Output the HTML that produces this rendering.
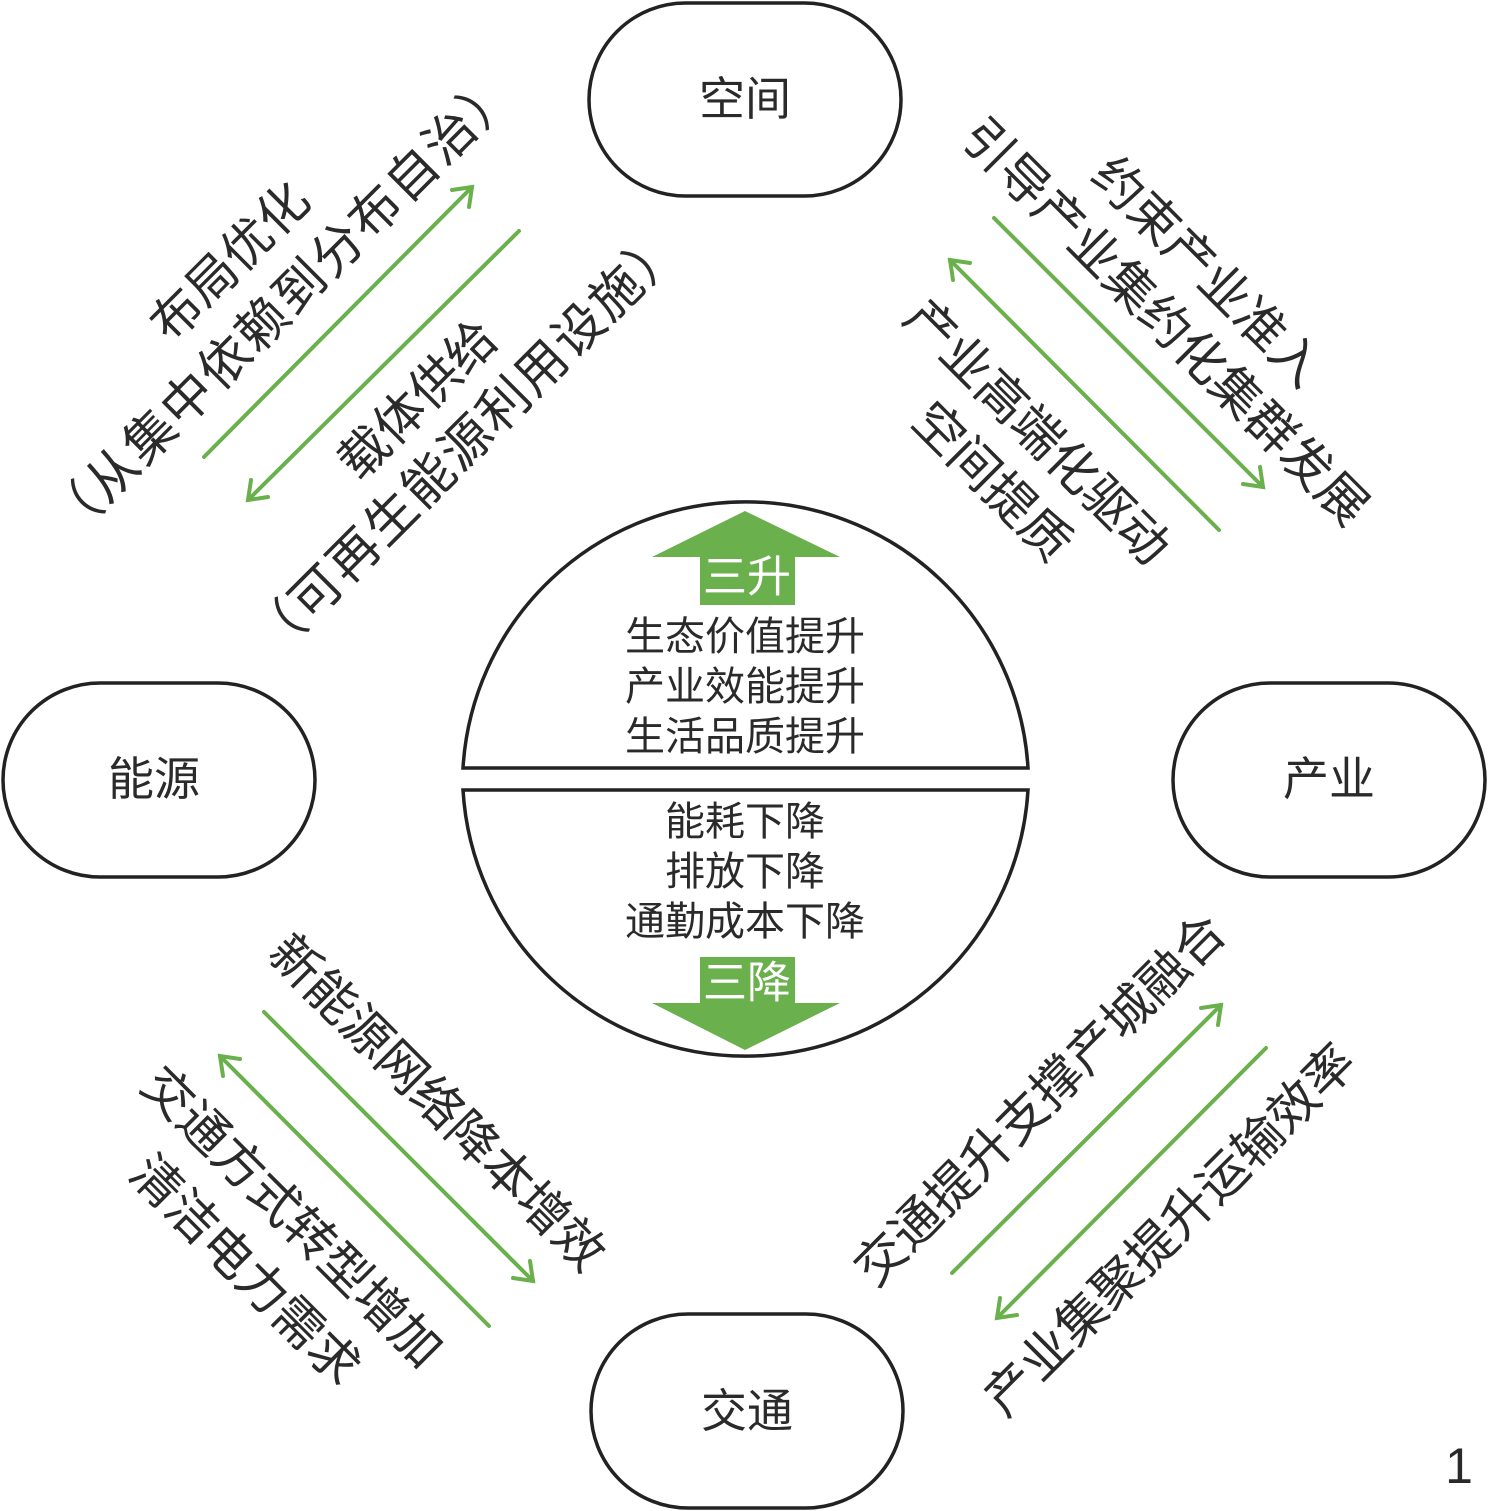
<!DOCTYPE html>
<html><head><meta charset="utf-8"><style>
html,body{margin:0;padding:0;background:#fff;}
svg{display:block;}
text{font-family:"Liberation Sans","Noto Sans CJK SC",sans-serif;fill:#2a2a2a;}
</style></head><body>
<svg width="1488" height="1511" viewBox="0 0 1488 1511" xmlns="http://www.w3.org/2000/svg">
<g fill="#fff" stroke="#222" stroke-width="3.5">
<rect x="589" y="3" width="312" height="193" rx="96.5"/>
<rect x="3" y="683" width="312" height="194" rx="97"/>
<rect x="1173" y="683" width="312" height="194" rx="97"/>
<rect x="591" y="1314" width="312" height="194" rx="97"/>
<path d="M463,768 A283,283 0 0 1 1028,768 Z"/>
<path d="M463,790 A283,283 0 0 0 1028,790 Z"/>
</g>
<g font-size="46" text-anchor="middle" dominant-baseline="central">
<text x="745" y="99">空间</text>
<text x="154" y="779">能源</text>
<text x="1329" y="779">产业</text>
<text x="747" y="1411">交通</text>
</g>
<g fill="#6ab04c">
<polygon points="745,511 840,557 795,557 795,605 700,605 700,557 652,557"/>
<polygon points="745,1050 840,1003 795,1003 795,957 700,957 700,1003 652,1003"/>
</g>
<g font-size="40" text-anchor="middle" dominant-baseline="central">
<text x="747" y="577" font-size="44" style="fill:#fff">三升</text>
<text x="747" y="983" font-size="44" style="fill:#fff">三降</text>
<text x="745" y="637">生态价值提升</text>
<text x="745" y="687">产业效能提升</text>
<text x="745" y="737">生活品质提升</text>
<text x="745" y="822">能耗下降</text>
<text x="745" y="872">排放下降</text>
<text x="745" y="922">通勤成本下降</text>
</g>
<g stroke="#6ab04c" stroke-width="4" fill="none" stroke-linecap="round">
<line x1="204" y1="457" x2="472" y2="187"/><polyline points="452,190 472,187 469,207"/>
<line x1="519" y1="231" x2="248" y2="500"/><polyline points="251,480 248,500 268,497"/>
<line x1="1219" y1="530" x2="950" y2="260"/><polyline points="970,263 950,260 953,280"/>
<line x1="994" y1="218" x2="1263" y2="487"/><polyline points="1243,484 1263,487 1260,467"/>
<line x1="264" y1="1012" x2="533" y2="1281"/><polyline points="513,1278 533,1281 530,1261"/>
<line x1="489" y1="1326" x2="220" y2="1056"/><polyline points="240,1059 220,1056 223,1076"/>
<line x1="952" y1="1273" x2="1221" y2="1005"/><polyline points="1201,1008 1221,1005 1218,1025"/>
<line x1="1266" y1="1048" x2="997" y2="1318"/><polyline points="1000,1298 997,1318 1017,1315"/>
</g>
<g font-size="50" text-anchor="middle" dominant-baseline="central">
<text transform="translate(230,262) rotate(-45)">布局优化</text>
<text transform="translate(282,305) rotate(-45)" font-size="51" letter-spacing="2">（从集中依赖到分布自治）</text>
<text transform="translate(418,400) rotate(-45)">载体供给</text>
<text transform="translate(467,442) rotate(-45)" font-size="51" letter-spacing="2">（可再生能源利用设施）</text>
<text transform="translate(1207,272) rotate(45)">约束产业准入</text>
<text transform="translate(1165,322) rotate(45)">引导产业集约化集群发展</text>
<text transform="translate(1037,432) rotate(45)">产业高端化驱动</text>
<text transform="translate(992,482) rotate(45)">空间提质</text>
<text transform="translate(437,1103) rotate(45)">新能源网络降本增效</text>
<text transform="translate(292,1217) rotate(45)">交通方式转型增加</text>
<text transform="translate(245,1270) rotate(45)">清洁电力需求</text>
<text transform="translate(1040,1100) rotate(-45)">交通提升支撑产城融合</text>
<text transform="translate(1170,1230) rotate(-45)">产业集聚提升运输效率</text>
<text x="1459" y="1466">1</text>
</g>
</svg>
</body></html>
